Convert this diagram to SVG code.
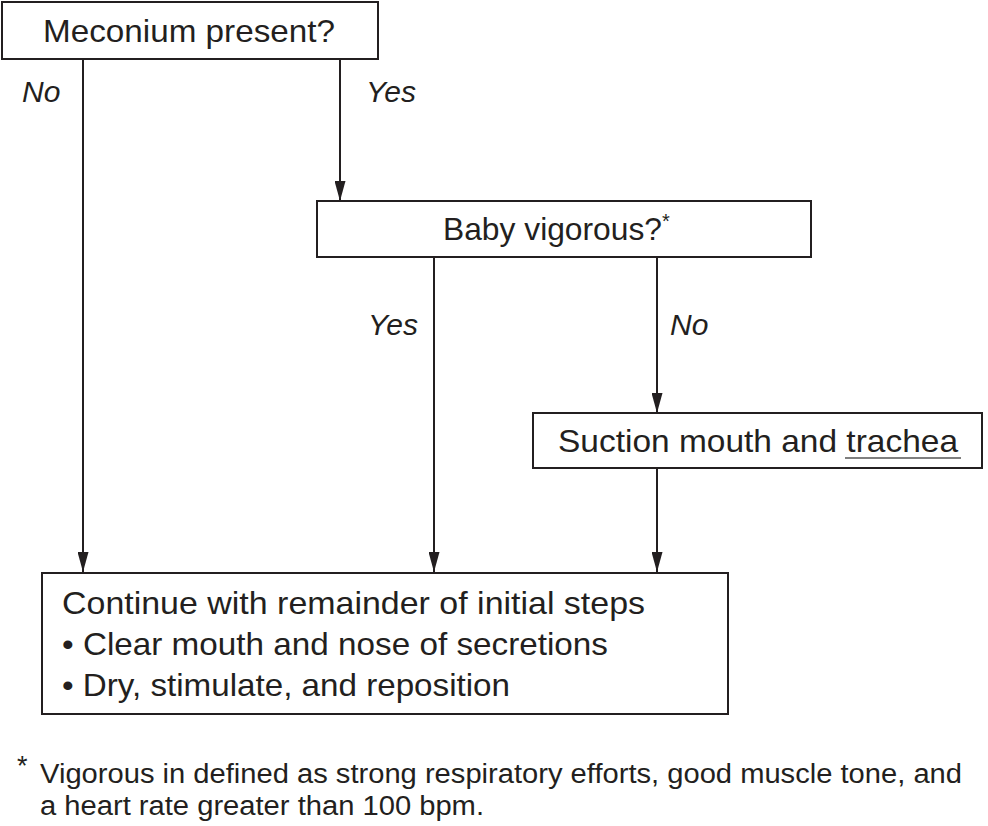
<svg xmlns="http://www.w3.org/2000/svg" width="988" height="826" viewBox="0 0 988 826">
<style>
.box{fill:#fff;stroke:#231f20;stroke-width:2}
.t{font-family:"Liberation Sans",Arial,sans-serif;font-size:30px;fill:#231f20}
.b{font-size:32px}
.i{font-style:italic}
.f{font-family:"Liberation Sans",Arial,sans-serif;font-size:27px;fill:#231f20}
.c{fill:none;stroke:#231f20;stroke-width:2}
</style>
<defs>
<marker id="ah" markerWidth="20" markerHeight="11" refX="20" refY="5.5" orient="auto" markerUnits="userSpaceOnUse" viewBox="0 0 20 11">
<path d="M0,0 L20,5.5 L0,11 Z" fill="#231f20"/>
</marker>
</defs>
<g id="connectors">
<path class="c" d="M83,59 V572" marker-end="url(#ah)"/>
<path class="c" d="M340,59 V201" marker-end="url(#ah)"/>
<path class="c" d="M434,257 V572" marker-end="url(#ah)"/>
<path class="c" d="M657,257 V413" marker-end="url(#ah)"/>
<path class="c" d="M657,468 V572" marker-end="url(#ah)"/>
<text class="t i" x="22" y="102">No</text>
<text class="t i" x="366" y="102">Yes</text>
<text class="t i" x="368" y="335">Yes</text>
<text class="t i" x="670" y="335">No</text>
</g>
<g id="meconium">
<rect class="box" x="2" y="2" width="376" height="57"/>
<text class="t b" x="43" y="42" textLength="292" lengthAdjust="spacingAndGlyphs">Meconium present?</text>
</g>
<g id="vigorous">
<rect class="box" x="317" y="201" width="494" height="56"/>
<text class="t b" x="443" y="240"><tspan textLength="219" lengthAdjust="spacingAndGlyphs">Baby vigorous?</tspan><tspan font-size="20" dy="-12">*</tspan></text>
</g>
<g id="suction">
<rect class="box" x="533" y="413" width="449" height="55"/>
<text class="t b" x="558" y="452" textLength="400" lengthAdjust="spacingAndGlyphs">Suction mouth and trachea</text>
<line x1="845" y1="458" x2="961" y2="458" stroke="#555" stroke-width="1.5"/>
</g>
<g id="continue">
<rect class="box" x="42" y="573" width="686" height="141"/>
<text class="t b" x="62" y="614" textLength="583" lengthAdjust="spacingAndGlyphs">Continue with remainder of initial steps</text>
<text class="t b" x="62" y="655" textLength="546" lengthAdjust="spacingAndGlyphs">• Clear mouth and nose of secretions</text>
<text class="t b" x="62" y="696" textLength="448" lengthAdjust="spacingAndGlyphs">• Dry, stimulate, and reposition</text>
</g>
<g id="footnote">
<text class="f" x="17" y="775" font-size="17">*</text>
<text class="f" x="40" y="783" textLength="922" lengthAdjust="spacingAndGlyphs">Vigorous in defined as strong respiratory efforts, good muscle tone, and</text>
<text class="f" x="40" y="815" textLength="444" lengthAdjust="spacingAndGlyphs">a heart rate greater than 100 bpm.</text>
</g>
</svg>
